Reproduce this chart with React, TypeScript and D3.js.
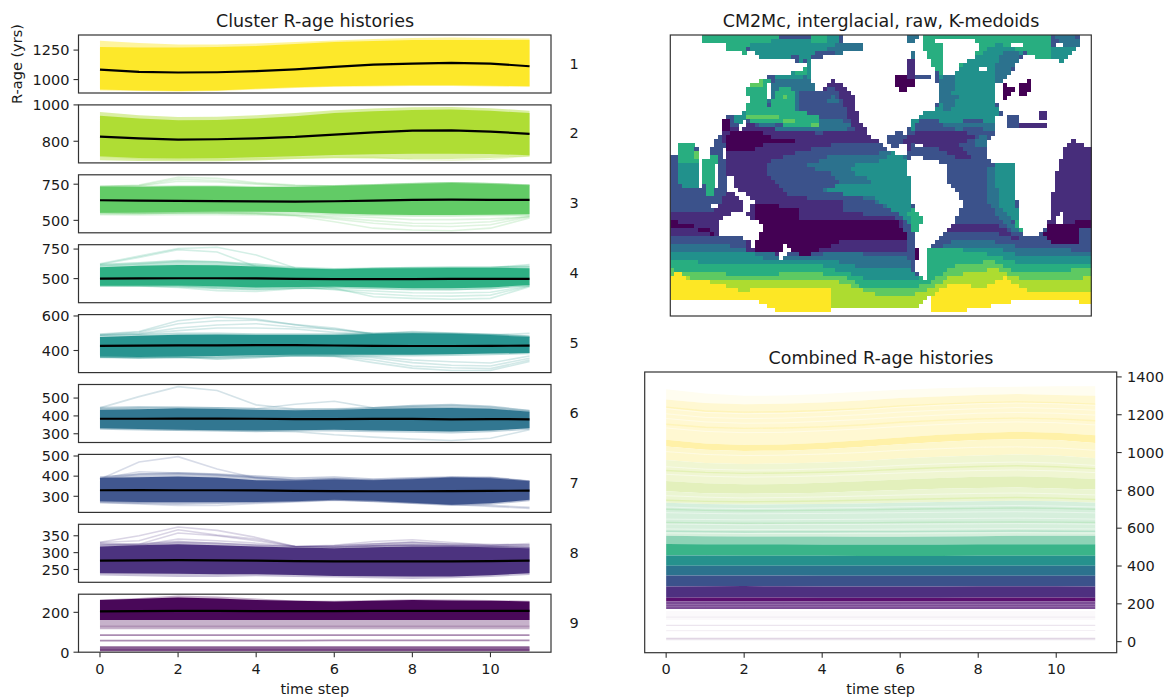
import React from "react";
import * as d3 from "d3";

const timeSteps = [0, 1, 2, 3, 4, 5, 6, 7, 8, 9, 10, 11];
const xTicks = [0, 2, 4, 6, 8, 10];
const clusterColors = ["#fde725", "#addc30", "#5ec962", "#28ae80", "#21918c", "#2c728e", "#3b528b", "#472d7b", "#440154"];

const yDomains = [[886, 1378], [681, 1000], [414, 815], [296, 787], [272, 608], [251, 576], [220, 508], [212, 384], [0, 291]];
const yTicks = [[1000, 1250], [800, 1000], [500, 750], [500, 750], [400, 600], [300, 400, 500], [300, 400, 500], [250, 300, 350], [0, 200]];

const means = [
  [1085, 1065, 1060, 1062, 1071, 1087, 1107, 1127, 1136, 1142, 1136, 1113],
  [826, 816, 809, 811, 816, 824, 837, 849, 859, 860, 853, 841],
  [639, 637, 635, 633, 631, 630, 632, 636, 642, 644, 642, 641],
  [500, 502, 503, 503, 502, 498, 496, 495, 496, 497, 497, 497],
  [427, 428, 430, 430, 431, 431, 429, 427, 426, 426, 427, 428],
  [384, 384, 385, 385, 384, 382, 382, 383, 383, 381, 382, 381],
  [330, 331, 330, 330, 329, 327, 326, 325, 325, 326, 327, 328],
  [276, 277, 278, 277, 276, 275, 274, 274, 274, 274, 275, 276],
  [205, 206, 207, 207, 206, 206, 206, 207, 207, 207, 207, 207],
];
const bandHigh = [
  [1276, 1271, 1271, 1276, 1284, 1301, 1318, 1327, 1335, 1335, 1335, 1335],
  [940, 925, 915, 917, 925, 938, 955, 965, 972, 975, 968, 955],
  [733, 733, 735, 735, 731, 731, 738, 745, 752, 759, 752, 743],
  [597, 608, 616, 612, 602, 585, 580, 585, 588, 590, 590, 588],
  [478, 485, 491, 492, 491, 491, 491, 495, 500, 497, 490, 478],
  [434, 438, 443, 440, 434, 432, 434, 440, 443, 445, 440, 424],
  [392, 395, 398, 393, 380, 378, 383, 380, 385, 393, 390, 375],
  [318, 322, 325, 322, 318, 315, 313, 316, 318, 318, 316, 313],
  [262, 268, 275, 270, 262, 258, 255, 258, 262, 260, 258, 255],
];
const bandLow = [
  [915, 907, 903, 907, 922, 934, 943, 947, 951, 951, 947, 943],
  [718, 708, 705, 707, 712, 718, 724, 728, 731, 732, 730, 723],
  [553, 555, 558, 560, 560, 558, 548, 540, 537, 537, 538, 542],
  [441, 441, 441, 435, 425, 428, 430, 425, 418, 418, 425, 446],
  [365, 362, 365, 368, 373, 375, 375, 375, 375, 378, 382, 385],
  [331, 326, 322, 320, 318, 320, 322, 318, 315, 312, 318, 331],
  [275, 272, 272, 272, 272, 275, 283, 278, 268, 258, 265, 283],
  [239, 238, 237, 236, 236, 234, 231, 230, 229, 229, 233, 239],
  [162, 162, 162, 162, 162, 162, 162, 162, 162, 162, 162, 162],
];
const paleHigh = [
  [1329, 1310, 1297, 1297, 1305, 1318, 1331, 1344, 1352, 1356, 1352, 1348],
  [961, 943, 933, 935, 943, 956, 970, 980, 987, 989, 982, 968],
  [740, 740, 742, 742, 738, 738, 744, 752, 760, 766, 760, 750],
  [625, 640, 660, 650, 630, 600, 590, 595, 600, 605, 605, 605],
  [490, 495, 505, 505, 500, 500, 500, 505, 510, 505, 498, 488],
  [452, 455, 452, 450, 445, 442, 442, 450, 462, 468, 458, 435],
  [400, 415, 420, 415, 405, 395, 400, 390, 396, 400, 398, 380],
  [325, 328, 335, 330, 325, 320, 322, 328, 332, 328, 326, 325],
  [265, 272, 285, 280, 270, 260, 258, 262, 266, 264, 262, 258],
];
const paleLow = [
  [908, 902, 898, 902, 916, 928, 938, 942, 946, 946, 942, 938],
  [695, 692, 690, 690, 694, 702, 706, 705, 702, 703, 708, 716],
  [540, 540, 545, 548, 548, 545, 535, 528, 525, 525, 528, 530],
  [430, 430, 425, 410, 400, 412, 418, 410, 400, 400, 410, 436],
  [355, 352, 355, 358, 362, 365, 365, 365, 365, 368, 372, 378],
  [322, 318, 315, 312, 308, 312, 312, 308, 305, 302, 308, 322],
  [265, 262, 258, 262, 266, 272, 278, 270, 262, 252, 258, 275],
  [232, 230, 228, 228, 230, 228, 226, 224, 222, 224, 228, 234],
  [115, 115, 115, 115, 115, 115, 115, 115, 115, 115, 115, 115],
];
const strays = [
  [],
  [
    [718, 706, 700, 700, 703, 708, 712, 712, 700, 696, 702, 720],
  ],
  [
    [733, 745, 798, 790, 760, 745, 738, 745, 752, 759, 752, 743],
    [733, 740, 785, 775, 755, 740, 738, 745, 752, 759, 752, 743],
    [733, 738, 770, 765, 750, 738, 738, 745, 752, 759, 752, 743],
    [555, 550, 552, 550, 545, 530, 490, 446, 433, 428, 446, 516],
    [555, 552, 552, 552, 548, 535, 510, 480, 462, 458, 470, 525],
    [555, 552, 555, 555, 550, 540, 520, 498, 480, 478, 490, 530],
    [540, 538, 540, 540, 538, 535, 530, 520, 505, 505, 510, 525],
  ],
  [
    [625, 690, 755, 765, 700, 590, 570, 585, 588, 590, 590, 600],
    [620, 680, 745, 725, 600, 580, 575, 585, 590, 592, 592, 610],
    [610, 625, 645, 640, 610, 585, 578, 585, 590, 592, 592, 620],
    [441, 441, 441, 435, 445, 470, 418, 347, 333, 325, 333, 432],
    [441, 441, 441, 430, 425, 430, 405, 372, 355, 352, 360, 438],
    [441, 441, 440, 420, 410, 420, 410, 395, 380, 378, 385, 440],
    [441, 438, 425, 398, 391, 415, 425, 418, 410, 408, 415, 446],
  ],
  [
    [495, 510, 572, 594, 582, 549, 520, 500, 497, 497, 492, 480],
    [492, 505, 555, 572, 575, 550, 530, 495, 500, 497, 490, 480],
    [490, 498, 530, 548, 555, 535, 525, 495, 500, 495, 490, 480],
    [488, 495, 515, 530, 530, 525, 505, 495, 510, 501, 491, 499],
    [362, 358, 362, 350, 358, 370, 365, 330, 298, 284, 284, 336],
    [362, 358, 360, 352, 360, 372, 368, 345, 310, 300, 295, 345],
    [362, 360, 362, 358, 365, 372, 370, 358, 330, 315, 310, 355],
    [363, 362, 364, 362, 368, 374, 372, 365, 345, 335, 328, 368],
  ],
  [
    [445, 508, 564, 542, 462, 438, 440, 445, 450, 445, 440, 424],
    [440, 445, 450, 445, 440, 465, 482, 445, 455, 460, 450, 428],
    [331, 326, 320, 318, 316, 312, 294, 281, 270, 262, 275, 322],
  ],
  [
    [385, 470, 497, 435, 390, 380, 385, 380, 385, 393, 390, 375],
    [388, 422, 415, 408, 395, 380, 385, 380, 385, 393, 390, 375],
    [385, 410, 412, 405, 392, 380, 385, 380, 385, 393, 390, 375],
    [275, 270, 270, 270, 272, 275, 283, 278, 268, 260, 250, 240],
    [278, 272, 270, 272, 275, 278, 283, 278, 270, 262, 255, 245],
    [270, 262, 255, 255, 265, 272, 280, 276, 268, 262, 268, 283],
  ],
  [
    [331, 350, 376, 366, 345, 318, 316, 320, 322, 320, 318, 315],
    [330, 335, 368, 352, 340, 318, 316, 320, 322, 320, 318, 315],
    [328, 325, 358, 350, 335, 318, 316, 320, 322, 320, 318, 315],
    [326, 322, 340, 335, 328, 318, 322, 333, 338, 330, 322, 327],
    [322, 322, 330, 328, 322, 318, 320, 326, 332, 325, 320, 323],
  ],
  [
    [130, 130, 130, 130, 130, 130, 130, 130, 130, 130, 130, 130],
    [86, 86, 86, 86, 86, 86, 86, 86, 86, 86, 86, 86],
    [58, 58, 58, 58, 58, 58, 59, 59, 59, 59, 59, 59],
    [27, 27, 27, 27, 27, 27, 27, 27, 27, 27, 27, 27],
    [22, 22, 22, 22, 22, 22, 22, 22, 22, 22, 22, 22],
    [16, 16, 16, 16, 16, 16, 16, 16, 16, 16, 16, 16],
    [11, 11, 11, 11, 11, 11, 11, 11, 11, 11, 11, 11],
    [8, 8, 8, 8, 8, 8, 8, 8, 8, 8, 8, 8],
  ],
];

const combinedEdges = [
  [1335, 1312, 1300, 1302, 1310, 1322, 1332, 1340, 1345, 1348, 1350, 1350],
  [1280, 1262, 1255, 1258, 1265, 1275, 1288, 1296, 1305, 1310, 1305, 1300],
  [1068, 1048, 1040, 1042, 1052, 1065, 1080, 1094, 1104, 1110, 1105, 1092],
  [1032, 1015, 1008, 1010, 1018, 1030, 1044, 1056, 1066, 1070, 1066, 1050],
  [960, 945, 940, 942, 948, 955, 968, 978, 985, 990, 985, 970],
  [850, 838, 832, 834, 840, 848, 858, 865, 872, 875, 870, 860],
  [795, 785, 782, 784, 788, 795, 802, 808, 812, 815, 810, 805],
  [735, 728, 725, 726, 728, 730, 735, 738, 742, 745, 742, 735],
  [560, 558, 556, 556, 556, 555, 555, 556, 558, 560, 560, 560],
  [516, 515, 515, 515, 514, 514, 514, 514, 515, 515, 515, 515],
  [455, 455, 454, 454, 454, 453, 453, 453, 454, 454, 454, 454],
  [402, 402, 402, 402, 401, 401, 401, 401, 401, 401, 401, 401],
  [350, 350, 350, 350, 349, 349, 349, 349, 349, 349, 349, 349],
  [292, 293, 294, 293, 292, 292, 292, 292, 293, 293, 293, 292],
  [232, 233, 234, 233, 232, 232, 232, 232, 233, 233, 233, 232],
  [212, 213, 214, 213, 212, 212, 212, 212, 213, 213, 213, 212],
  [172, 172, 172, 172, 172, 172, 172, 172, 172, 172, 172, 172],
];
const combinedFills = ["#fffdf0", "#fff8d2", "#fff1a8", "#fdf7cc", "#f0f6d2", "#e3f0bc", "#ebf5d2", "#d6efdc", "#8ed3b6", "#3ab489", "#26918d", "#2c728e", "#3b528b", "#4e3080", "#5b0f6e", "#7c4d96"];
const combinedSheens = [
  [1232, 1212, 1205, 1208, 1215, 1226, 1240, 1250, 1258, 1262, 1258, 1250],
  [1205, 1186, 1180, 1182, 1190, 1200, 1214, 1224, 1232, 1238, 1233, 1224],
  [1180, 1162, 1155, 1157, 1165, 1175, 1188, 1198, 1208, 1212, 1208, 1198],
  [1130, 1112, 1105, 1107, 1115, 1125, 1138, 1148, 1158, 1162, 1158, 1146],
  [1005, 990, 984, 986, 992, 1000, 1012, 1020, 1028, 1030, 1025, 1012],
  [925, 912, 907, 908, 914, 921, 932, 940, 946, 950, 944, 932],
  [885, 875, 870, 872, 877, 884, 892, 900, 905, 908, 903, 894],
  [772, 764, 760, 762, 765, 770, 775, 780, 784, 786, 782, 776],
  [712, 706, 704, 705, 707, 709, 713, 716, 718, 720, 717, 712],
  [682, 678, 676, 677, 678, 680, 682, 684, 686, 687, 685, 681],
  [648, 646, 644, 645, 646, 647, 649, 650, 652, 653, 651, 648],
  [622, 620, 618, 619, 619, 620, 621, 622, 623, 624, 623, 621],
  [596, 594, 593, 593, 594, 594, 595, 596, 597, 598, 597, 596],
  [575, 573, 572, 572, 572, 573, 573, 574, 575, 576, 575, 574],
];
const purpleSheens = [
  [196, 196, 196, 196, 196, 196, 196, 196, 196, 196, 196, 196],
  [185, 185, 185, 185, 185, 185, 185, 185, 185, 185, 185, 185],
];
const combinedTints = [
  { color: "#f8e24a", values: [1240, 1220, 1214, 1216, 1222, 1232, 1246, 1256, 1264, 1268, 1264, 1256] },
  { color: "#f8e24a", values: [1150, 1134, 1128, 1130, 1136, 1146, 1160, 1170, 1178, 1182, 1178, 1168] },
  { color: "#addc30", values: [905, 895, 890, 892, 896, 902, 912, 920, 926, 930, 925, 915] },
  { color: "#addc30", values: [748, 742, 740, 741, 744, 748, 752, 756, 760, 762, 759, 752] },
  { color: "#5ec962", values: [700, 694, 692, 693, 695, 697, 700, 703, 705, 707, 705, 700] },
  { color: "#5ec962", values: [630, 628, 626, 627, 628, 628, 630, 631, 632, 633, 632, 630] },
  { color: "#28ae80", values: [584, 582, 580, 581, 581, 582, 582, 583, 584, 585, 584, 583] },
];
const strayRows = [
  { color: "#440154", opacity: 0.05, values: [130, 130, 130, 130, 130, 130, 130, 130, 130, 130, 130, 130] },
  { color: "#440154", opacity: 0.1, values: [86, 86, 86, 86, 86, 86, 86, 86, 86, 86, 86, 86] },
  { color: "#440154", opacity: 0.06, values: [58, 58, 58, 58, 58, 58, 59, 59, 59, 59, 59, 59] },
  { color: "#440154", opacity: 0.16, values: [17, 17, 17, 17, 17, 17, 17, 17, 17, 17, 17, 17] },
  { color: "#440154", opacity: 0.1, values: [11, 11, 11, 11, 11, 11, 11, 11, 11, 11, 11, 11] },
];
const combinedTicks = [0, 200, 400, 600, 800, 1000, 1200, 1400];

// map outlines, painter's order: [cluster (0 = land), points in map units]
const mapRegions: [number, number[][]][] = [
  [7, [[30, 32], [1295, 32], [1295, 872], [30, 872]]],
  // Pacific
  [8, [[190, 322], [260, 297], [400, 322], [480, 327], [530, 322], [590, 320], [630, 332], [665, 360], [530, 357], [420, 382], [320, 415], [320, 450], [385, 512], [552, 530], [550, 558], [720, 580], [745, 640], [745, 680], [500, 680], [270, 690], [240, 600], [200, 560], [200, 450]]],
  [6, [[435, 425], [520, 390], [690, 385], [745, 400], [745, 580], [720, 570], [620, 520], [585, 515], [615, 508], [490, 495], [535, 475], [510, 445]]],
  [5, [[570, 425], [660, 410], [700, 385], [750, 405], [750, 535], [770, 620], [720, 570], [640, 515], [480, 500], [530, 480], [630, 480], [625, 460], [570, 440]]],
  [4, [[750, 535], [790, 580], [775, 640], [760, 625], [745, 570]]],
  [9, [[202, 337], [220, 322], [270, 322], [310, 324], [330, 337], [400, 350], [310, 357], [310, 367], [260, 382], [202, 382]]],
  [9, [[285, 530], [420, 555], [420, 578], [710, 585], [745, 640], [540, 650], [430, 692], [400, 682], [285, 680], [262, 640], [305, 605], [280, 565]]],
  [8, [[30, 555], [165, 555], [245, 525], [245, 590], [200, 600], [170, 630], [30, 630]]],
  [8, [[190, 510], [245, 540], [245, 590], [170, 560]]],
  [9, [[30, 585], [105, 598], [105, 610], [165, 615], [165, 630], [115, 620], [105, 610], [30, 610]]],
  // Atlantic
  [5, [[835, 152], [895, 127], [950, 92], [1015, 57], [1090, 82], [1060, 122], [1020, 172], [1005, 182], [1000, 222], [1020, 257], [1025, 272], [1005, 277], [1010, 322], [960, 287], [880, 292], [780, 287], [755, 322], [750, 297], [780, 272], [830, 252], [835, 222]]],
  [6, [[1020, 87], [1085, 77], [1080, 102], [1055, 142], [1030, 182], [1000, 182], [1000, 132], [1010, 117]]],
  [6, [[845, 157], [885, 157], [885, 202], [870, 212], [895, 217], [870, 257], [855, 257], [835, 222]]],
  [6, [[770, 292], [830, 294], [900, 317], [950, 302], [980, 322], [1010, 322], [1005, 292], [960, 290], [880, 295], [780, 290]]],
  [8, [[730, 342], [780, 322], [950, 327], [940, 342], [900, 362], [940, 402], [905, 407], [830, 367], [760, 357], [748, 377], [730, 372]]],
  [6, [[950, 342], [980, 332], [980, 372], [945, 372]]],
  [4, [[790, 32], [1180, 32], [1180, 102], [1140, 102], [1090, 82], [1055, 72], [1015, 57], [950, 97], [895, 127], [885, 152], [850, 152], [825, 132], [805, 102], [790, 72]]],
  [5, [[1175, 72], [1250, 72], [1235, 92], [1205, 112], [1175, 102]]],
  [6, [[1190, 32], [1235, 32], [1255, 52], [1255, 72], [1240, 72], [1200, 62]]],
  [6, [[740, 32], [775, 32], [760, 57], [740, 57]]],
  [6, [[985, 430], [1050, 430], [1060, 590], [1090, 640], [1020, 580], [985, 530]]],
  [5, [[1000, 417], [1060, 417], [1065, 510], [1085, 610], [1050, 580], [1020, 540], [1005, 452]]],
  [4, [[1060, 580], [1085, 590], [1085, 615], [1065, 610]]],
  [8, [[880, 595], [1000, 590], [1050, 620], [1100, 650], [1000, 620], [870, 620], [850, 635]]],
  // Indian
  [8, [[1240, 345], [1295, 375], [1295, 600], [1150, 600], [1175, 510], [1195, 430], [1215, 375]]],
  [9, [[1165, 598], [1295, 585], [1295, 605], [1260, 612], [1255, 660], [1185, 655], [1150, 628]]],
  [4, [[55, 355], [95, 355], [110, 400], [110, 425], [60, 420]]],
  [3, [[100, 370], [115, 380], [110, 410], [100, 400]]],
  [5, [[60, 420], [110, 420], [120, 490], [60, 480]]],
  [4, [[125, 397], [175, 397], [165, 470], [155, 515], [140, 515], [130, 470]]],
  // north Pacific
  [8, [[480, 197], [510, 167], [540, 177], [575, 207], [600, 292], [630, 332], [660, 352], [640, 352], [590, 320], [570, 292], [550, 237], [525, 197], [510, 185], [490, 200]]],
  [6, [[320, 227], [330, 182], [370, 157], [410, 147], [450, 162], [465, 197], [445, 197], [410, 202], [410, 257], [330, 252]]],
  [5, [[340, 160], [430, 137], [435, 157], [405, 160], [380, 170]]],
  [6, [[495, 222], [525, 212], [540, 237], [510, 242]]],
  [6, [[470, 290], [530, 285], [575, 300], [560, 322], [400, 322], [380, 315]]],
  [6, [[295, 297], [480, 315], [400, 322], [290, 305]]],
  [4, [[255, 187], [335, 155], [335, 172], [315, 187], [315, 252], [335, 252], [335, 227], [355, 187], [390, 187], [400, 207], [400, 257], [475, 272], [480, 312], [270, 294], [260, 267], [270, 212], [255, 207]]],
  [3, [[262, 272], [325, 272], [400, 287], [400, 294], [320, 284], [262, 282]]],
  [3, [[265, 177], [305, 167], [305, 182], [265, 187]]],
  [3, [[368, 209], [382, 209], [382, 222], [368, 222]]],
  [3, [[450, 294], [475, 294], [475, 314], [450, 314]]],
  // arctic
  [4, [[125, 32], [360, 32], [360, 50], [280, 52], [255, 72], [255, 87], [200, 82], [200, 52], [125, 52]]],
  [5, [[275, 62], [360, 42], [530, 37], [550, 62], [500, 82], [450, 87], [450, 107], [410, 112], [410, 92], [390, 87], [385, 104], [305, 104], [275, 82]]],
  [4, [[450, 37], [500, 37], [500, 52], [450, 52]]],
  [6, [[495, 77], [530, 60], [612, 60], [612, 82], [530, 87]]],
  [5, [[435, 112], [450, 107], [450, 162], [432, 157], [435, 137]]],
  [4, [[405, 137], [435, 132], [435, 157], [405, 157]]],
  // southern ocean
  [6, [[30, 660], [180, 655], [280, 680], [430, 695], [520, 680], [745, 695], [760, 740], [780, 755], [790, 720], [800, 690], [870, 650], [1000, 650], [1115, 672], [1295, 675], [1295, 872], [30, 872]]],
  [5, [[30, 680], [270, 682], [330, 705], [500, 700], [620, 730], [745, 725], [775, 760], [800, 700], [875, 665], [1000, 665], [1090, 695], [1295, 690], [1295, 872], [30, 872]]],
  [4, [[30, 705], [300, 722], [480, 720], [550, 740], [630, 765], [770, 770], [800, 672], [870, 668], [1000, 690], [1090, 715], [1200, 712], [1295, 712], [1295, 872], [30, 872]]],
  [3, [[30, 733], [150, 742], [300, 755], [400, 738], [550, 752], [610, 790], [750, 790], [810, 770], [880, 722], [1000, 705], [1060, 735], [1130, 742], [1295, 730], [1295, 872], [30, 872]]],
  [2, [[30, 745], [60, 750], [150, 770], [240, 760], [400, 770], [540, 770], [650, 810], [750, 810], [815, 790], [880, 750], [1000, 730], [1060, 750], [1110, 770], [1240, 770], [1295, 745], [1295, 872], [30, 872]]],
  [1, [[30, 770], [38, 740], [70, 745], [80, 760], [150, 770], [240, 795], [370, 790], [515, 790], [515, 872], [30, 872]]],
  [1, [[815, 810], [880, 770], [960, 790], [1030, 755], [1060, 770], [1105, 795], [1295, 795], [1295, 872], [815, 872]]],
  // land
  [0, [[30, 32], [125, 32], [125, 52], [200, 52], [200, 82], [255, 87], [275, 82], [305, 104], [385, 104], [410, 112], [435, 112], [432, 135], [405, 137], [370, 157], [335, 154], [300, 167], [255, 187], [255, 207], [270, 212], [260, 267], [220, 272], [188, 284], [188, 322], [150, 372], [150, 400], [125, 400], [118, 385], [95, 357], [55, 355], [55, 397], [30, 397]]],
  [0, [[318, 182], [330, 177], [330, 227], [318, 232]]],
  [5, [[220, 272], [260, 264], [262, 282], [245, 287], [230, 302], [220, 302]]],
  [9, [[188, 284], [212, 284], [212, 315], [188, 315]]],
  [0, [[230, 302], [262, 284], [265, 297], [240, 317]]],
  [0, [[115, 385], [125, 400], [130, 500], [120, 490]]],
  [0, [[160, 420], [180, 420], [180, 490], [158, 490]]],
  [0, [[188, 367], [202, 367], [202, 407], [188, 407]]],
  [0, [[200, 450], [215, 450], [230, 490], [285, 525], [270, 535], [225, 510], [200, 495]]],
  [0, [[245, 525], [265, 525], [265, 560], [245, 560]]],
  [0, [[155, 535], [170, 535], [170, 545], [155, 545]]],
  [0, [[170, 590], [230, 555], [265, 570], [305, 600], [300, 630], [285, 650], [285, 680], [260, 640], [200, 630], [170, 630]]],
  [0, [[380, 650], [390, 675], [360, 700], [355, 690]]],
  [0, [[545, 32], [545, 50], [612, 60], [612, 82], [530, 87], [450, 107], [450, 165], [465, 197], [480, 197], [510, 167], [540, 177], [575, 207], [600, 292], [630, 332], [665, 360], [690, 378], [745, 400], [745, 370], [730, 357], [730, 342], [750, 297], [780, 272], [830, 252], [832, 222], [835, 185], [820, 167], [820, 132], [805, 102], [790, 72], [790, 32], [775, 32], [760, 57], [740, 57], [740, 32]]],
  [7, [[685, 337], [705, 324], [740, 327], [730, 357], [715, 357], [715, 367], [695, 367], [685, 352]]],
  [9, [[698, 154], [725, 147], [760, 167], [760, 192], [720, 197], [710, 182]]],
  [8, [[740, 117], [750, 102], [768, 102], [768, 162], [735, 167]]],
  [6, [[748, 84], [768, 84], [768, 104], [748, 104]]],
  [7, [[765, 152], [815, 147], [815, 167], [765, 167]]],
  [0, [[760, 354], [790, 354], [790, 367], [760, 367]]],
  [0, [[815, 42], [885, 42], [960, 52], [960, 72], [945, 97], [895, 127], [885, 152], [850, 152], [845, 62]]],
  [0, [[960, 124], [978, 124], [978, 142], [965, 144]]],
  [0, [[1055, 60], [1085, 60], [1085, 70], [1055, 70]]],
  [0, [[1190, 55], [1210, 55], [1210, 70], [1190, 70]]],
  [0, [[1255, 32], [1295, 32], [1295, 375], [1240, 345], [1215, 375], [1195, 430], [1175, 520], [1170, 580], [1140, 630], [1100, 640], [1085, 610], [1070, 510], [1060, 412], [1000, 417], [975, 382], [980, 352], [1010, 322], [1005, 277], [1032, 272], [1025, 257], [1005, 222], [1005, 182], [1025, 172], [1055, 142], [1090, 92], [1110, 92], [1140, 102], [1175, 107], [1205, 112], [1235, 92], [1255, 70]]],
  [7, [[1035, 287], [1045, 272], [1072, 272], [1075, 294], [1085, 302], [1045, 304]]],
  [8, [[1075, 294], [1158, 294], [1158, 314], [1075, 314]]],
  [8, [[1140, 262], [1158, 262], [1158, 284], [1140, 284]]],
  [9, [[1025, 179], [1065, 187], [1055, 207], [1045, 220], [1035, 220], [1025, 202]]],
  [9, [[1075, 187], [1100, 167], [1118, 167], [1118, 187], [1105, 207], [1075, 207]]],
  [0, [[745, 400], [760, 390], [855, 415], [860, 470], [905, 520], [905, 550], [880, 600], [850, 630], [800, 680], [795, 760], [770, 740], [770, 620], [790, 580], [750, 530]]],
  [9, [[762, 665], [780, 665], [780, 700], [762, 700]]],
  [0, [[820, 735], [832, 735], [832, 745], [820, 745]]],
  [0, [[1195, 555], [1210, 555], [1205, 595], [1190, 595]]],
  [0, [[30, 832], [55, 820], [285, 820], [350, 862], [465, 862], [530, 850], [775, 848], [815, 810], [815, 862], [950, 852], [1050, 830], [1180, 820], [1280, 832], [1295, 830], [1295, 872], [30, 872]]],
];
const mapColumns = 105;
const mapRows = 70;

const font = "'DejaVu Sans', sans-serif";
const ink = "#1a1a1a";
const spine = "#333";
const tickFont = 14.5;
const titleFont = 17.5;

const left = { x0: 78.5, x1: 551, top0: 35, pitch: 69.9, h: 58 };
const xLeft = d3.scaleLinear().domain([-0.55, 11.55]).range([left.x0, left.x1]);
const xRight = d3.scaleLinear().domain([-0.55, 11.55]).range([644.7, 1116.7]);

function XAxis({ x, y }: { x: d3.ScaleLinear<number, number>; y: number }) {
  return (
    <g>
      {xTicks.map((t) => (
        <g key={t}>
          <line x1={x(t)} x2={x(t)} y1={y} y2={y + 5} stroke={spine} strokeWidth={1.1} />
          <text x={x(t)} y={y + 21.5} textAnchor="middle" fontSize={tickFont} fontFamily={font} fill={ink}>{t}</text>
        </g>
      ))}
      <text x={(x(-0.55) + x(11.55)) / 2} y={694} textAnchor="middle" fontSize={tickFont} fontFamily={font} fill={ink}>time step</text>
    </g>
  );
}

function ClusterRow({ index }: { index: number }) {
  const top = left.top0 + left.pitch * index;
  const bottom = top + left.h;
  const y = d3.scaleLinear().domain(yDomains[index]).range([bottom, top]);
  const color = clusterColors[index];
  const line = d3.line<number>().x((_, i) => xLeft(timeSteps[i])).y((v) => y(v));
  const band = (hi: number[], lo: number[]) =>
    d3.area<number>().x((_, i) => xLeft(timeSteps[i])).y0((_, i) => y(lo[i])).y1((v) => y(v))(hi) as string;
  return (
    <g>
      <path d={band(paleHigh[index], paleLow[index])} fill={color} opacity={index === 0 || index === 1 ? 0.45 : 0.3} />
      {strays[index].map((s, i) => (
        <path key={i} d={line(s) as string} fill="none" stroke={color} strokeWidth={index === 8 ? 1.8 : 1.6} opacity={index === 8 ? (i > 0 ? 0.45 : 0.18) : 0.2} />
      ))}
      <path d={band(bandHigh[index], bandLow[index])} fill={color} opacity={0.96} />
      <path d={line(means[index]) as string} fill="none" stroke="#000" strokeWidth={2.2} />
      <rect x={left.x0} y={top} width={left.x1 - left.x0} height={left.h} fill="none" stroke={spine} strokeWidth={1.2} />
      {yTicks[index].map((t) => (
        <g key={t}>
          <line x1={left.x0 - 5} x2={left.x0} y1={y(t)} y2={y(t)} stroke={spine} strokeWidth={1.1} />
          <text x={left.x0 - 9} y={y(t) + 5.3} textAnchor="end" fontSize={tickFont} fontFamily={font} fill={ink}>{t}</text>
        </g>
      ))}
      <text x={574} y={(top + bottom) / 2 + 4.5} textAnchor="middle" fontSize={tickFont} fontFamily={font} fill={ink}>{index + 1}</text>
    </g>
  );
}

function RegionMap() {
  const px = d3.scaleLinear().domain([0, mapColumns]).range([670.3, 1091.3]);
  const py = d3.scaleLinear().domain([0, mapRows]).range([35, 316]);
  const ux = d3.scaleLinear().domain([0, mapColumns]).range([30, 1295]);
  const uy = d3.scaleLinear().domain([0, mapRows]).range([32, 872]);
  const cells: { c: number; r: number; k: number }[] = [];
  for (let r = 0; r < mapRows; r++) {
    for (let c = 0; c < mapColumns; c++) {
      const p: [number, number] = [ux(c + 0.5), uy(r + 0.5)];
      let k = 0;
      for (const [cluster, poly] of mapRegions) {
        if (d3.polygonContains(poly as [number, number][], p)) k = cluster;
      }
      if (k > 0) cells.push({ c, r, k });
    }
  }
  return (
    <g>
      <g shapeRendering="crispEdges">
        {cells.map((d) => (
          <rect key={d.r * 1000 + d.c} x={px(d.c)} y={py(d.r)} width={px(1) - px(0) + 0.3} height={py(1) - py(0) + 0.3} fill={clusterColors[d.k - 1]} />
        ))}
      </g>
      <rect x={670.3} y={35} width={421} height={281} fill="none" stroke={spine} strokeWidth={1.2} />
    </g>
  );
}

function Combined() {
  const y = d3.scaleLinear().domain([-58.5, 1426]).range([652.7, 372]);
  const line = d3.line<number>().x((_, i) => xRight(timeSteps[i])).y((v) => y(v));
  const band = (hi: number[], lo: number[]) =>
    d3.area<number>().x((_, i) => xRight(timeSteps[i])).y0((_, i) => y(lo[i])).y1((v) => y(v))(hi) as string;
  return (
    <g>
      {combinedFills.map((f, i) => (
        <path key={i} d={band(combinedEdges[i], combinedEdges[i + 1])} fill={f} />
      ))}
      <path d={band(bandLow[8], paleLow[8])} fill="#440154" opacity={0.025} />
      {combinedTints.map((s, i) => (
        <path key={i} d={line(s.values) as string} fill="none" stroke={s.color} strokeWidth={1.4} opacity={0.18} />
      ))}
      {combinedSheens.map((s, i) => (
        <path key={i} d={line(s) as string} fill="none" stroke="#fff" strokeWidth={0.9} opacity={0.5} />
      ))}
      {purpleSheens.map((s, i) => (
        <path key={i} d={line(s) as string} fill="none" stroke="#fff" strokeWidth={0.9} opacity={0.2} />
      ))}
      {strayRows.map((s, i) => (
        <path key={i} d={line(s.values) as string} fill="none" stroke={s.color} strokeWidth={1.2} opacity={s.opacity} />
      ))}
      <rect x={644.7} y={372} width={472} height={280.7} fill="none" stroke={spine} strokeWidth={1.2} />
      {combinedTicks.map((t) => (
        <g key={t}>
          <line x1={1116.7} x2={1121.7} y1={y(t)} y2={y(t)} stroke={spine} strokeWidth={1.1} />
          <text x={1127} y={y(t) + 5.3} fontSize={tickFont} fontFamily={font} fill={ink}>{t}</text>
        </g>
      ))}
      <XAxis x={xRight} y={652.7} />
    </g>
  );
}

export default function App() {
  return (
    <svg width={1167} height={700} style={{ position: "absolute", left: 0, top: 0, background: "#fff" }}>
      <text x={315} y={27} textAnchor="middle" fontSize={titleFont} fontFamily={font} fill={ink}>Cluster R-age histories</text>
      <text x={881} y={27} textAnchor="middle" fontSize={titleFont} fontFamily={font} fill={ink}>CM2Mc, interglacial, raw, K-medoids</text>
      <text x={881} y={364} textAnchor="middle" fontSize={titleFont} fontFamily={font} fill={ink}>Combined R-age histories</text>
      <text transform="translate(22,64) rotate(-90)" textAnchor="middle" fontSize={tickFont} fontFamily={font} fill={ink}>R-age (yrs)</text>
      {clusterColors.map((_, i) => (
        <ClusterRow key={i} index={i} />
      ))}
      <XAxis x={xLeft} y={left.top0 + left.pitch * 8 + left.h} />
      <RegionMap />
      <Combined />
    </svg>
  );
}
